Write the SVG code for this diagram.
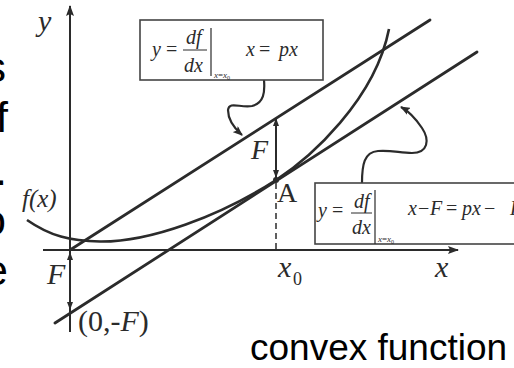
<svg xmlns="http://www.w3.org/2000/svg" width="514" height="368" viewBox="0 0 514 368">
<defs>
<style>
.ax{stroke:#2b2b2b;stroke-width:2;fill:none}
.ln{stroke:#2b2b2b;stroke-width:2.8;fill:none;stroke-linecap:round}
.cv{stroke:#2b2b2b;stroke-width:2.6;fill:none}
.cn{stroke:#2b2b2b;stroke-width:2.2;fill:none}
.bx{stroke:#444;stroke-width:1.6;fill:#fff}
.m{font-family:"Liberation Serif","Times New Roman",serif;fill:#2b2b2b}
.i{font-style:italic}
.big{font-family:"Liberation Sans",Arial,sans-serif;fill:#000}
</style>
<marker id="ah" markerUnits="userSpaceOnUse" markerWidth="11" markerHeight="8" refX="10" refY="4" orient="auto-start-reverse">
<path d="M0,0 L11,4 L0,8 L2,4 z" fill="#2b2b2b"/>
</marker>
<marker id="sh" markerUnits="userSpaceOnUse" markerWidth="8" markerHeight="6" refX="8" refY="3" orient="auto-start-reverse">
<path d="M0,0 L8,3 L0,6 z" fill="#2b2b2b"/>
</marker>
<marker id="ch" markerUnits="userSpaceOnUse" markerWidth="10" markerHeight="8" refX="9" refY="4" orient="auto">
<path d="M0,0 L10,4 L0,8 L2,4 z" fill="#2b2b2b"/>
</marker>
</defs>

<g id="side-text" class="big" font-size="43">
<text x="6" y="82" text-anchor="end">s</text>
<text x="8" y="132" text-anchor="end">f</text>
<text x="7" y="185" text-anchor="end">.</text>
<text x="6" y="235" text-anchor="end">o</text>
<text x="8" y="285" text-anchor="end">e</text>
</g>

<g id="axes">
<line class="ax" x1="70" y1="332" x2="70" y2="6" marker-end="url(#ah)"/>
<line class="ax" x1="43" y1="250" x2="458" y2="250" marker-end="url(#ah)"/>
</g>

<g id="curve">
<path class="cv" d="M27,220 C50,236 70,241 100,241.5 C150,242 220,216 276,180 C310,158 375,100 389,29"/>
</g>

<g id="connectors">
<line class="ln" x1="70" y1="250" x2="430" y2="20"/>
<line class="ln" x1="55" y1="323" x2="477" y2="52"/>
<line x1="276" y1="183" x2="276" y2="249" stroke="#2b2b2b" stroke-width="1.5" stroke-dasharray="6 4"/>
<line x1="276" y1="178" x2="276" y2="118" stroke="#2b2b2b" stroke-width="2" marker-end="url(#sh)" marker-start="url(#sh)"/>
<circle cx="276" cy="180" r="3" fill="#2b2b2b"/>
<line x1="70" y1="252" x2="70" y2="310" stroke="#2b2b2b" stroke-width="2" marker-end="url(#sh)" marker-start="url(#sh)"/>
<path class="cn" d="M264,80 C265,92 264,103 252,106 C240,108 229,101 228,110 C228,120 234,128 242,135" marker-end="url(#ch)"/>
<path class="cn" d="M362,183 C362,165 364,152 378,151 C392,150 400,153 412,153 C428,153 430,140 422,128 C416,119 410,112 401,107" marker-end="url(#ch)"/>
</g>

<g id="labels" class="m">
<text class="i" x="38" y="31" font-size="30">y</text>
<text class="i" x="22" y="207" font-size="25">f(x)</text>
<text class="i" x="47" y="284" font-size="30">F</text>
<text x="78" y="331" font-size="30">(0,-<tspan class="i">F</tspan>)</text>
<text class="i" x="251" y="159" font-size="28">F</text>
<text x="277" y="202" font-size="28">A</text>
<text class="i" x="278" y="277" font-size="30">x</text>
<text x="293" y="285" font-size="18">0</text>
<text class="i" x="435" y="277" font-size="30">x</text>
</g>

<g id="box1" class="m">
<rect class="bx" x="140" y="20" width="183" height="60"/>
<text class="i" x="152" y="56" font-size="20">y</text>
<text x="166" y="56" font-size="20">=</text>
<text class="i" x="186" y="44" font-size="20">df</text>
<line x1="183" y1="50" x2="207" y2="50" stroke="#2b2b2b" stroke-width="1"/>
<text class="i" x="184" y="72" font-size="20">dx</text>
<line x1="211" y1="28" x2="211" y2="76" stroke="#2b2b2b" stroke-width="1.2"/>
<text class="i" x="214" y="78" font-size="9">x<tspan font-style="normal">=</tspan>x<tspan font-size="6" font-style="normal" dy="1.5">0</tspan></text>
<text class="i" x="246" y="56" font-size="20">x</text>
<text x="259" y="56" font-size="20">=</text>
<text class="i" x="279" y="56" font-size="20">px</text>
</g>

<g id="box2" class="m">
<rect class="bx" x="315" y="183" width="220" height="61"/>
<text class="i" x="318" y="217" font-size="20">y</text>
<text x="332" y="217" font-size="20">=</text>
<text class="i" x="354" y="208" font-size="20">df</text>
<line x1="351" y1="213" x2="372" y2="213" stroke="#2b2b2b" stroke-width="1"/>
<text class="i" x="352" y="234" font-size="20">dx</text>
<line x1="375" y1="190" x2="375" y2="244" stroke="#2b2b2b" stroke-width="1.2"/>
<text class="i" x="378" y="242" font-size="9">x<tspan font-style="normal">=</tspan>x<tspan font-size="6" font-style="normal" dy="1.5">0</tspan></text>
<text class="i" x="408" y="215" font-size="20">x</text>
<text x="418" y="215" font-size="20">−</text>
<text class="i" x="430" y="215" font-size="20">F</text>
<text x="446" y="215" font-size="20">=</text>
<text class="i" x="462" y="215" font-size="20">px</text>
<text x="484" y="215" font-size="20">−</text>
<text class="i" x="510" y="215" font-size="20">F</text>
</g>

<g id="caption" class="big">
<text x="250" y="360" font-size="37">convex function</text>
</g>
</svg>
